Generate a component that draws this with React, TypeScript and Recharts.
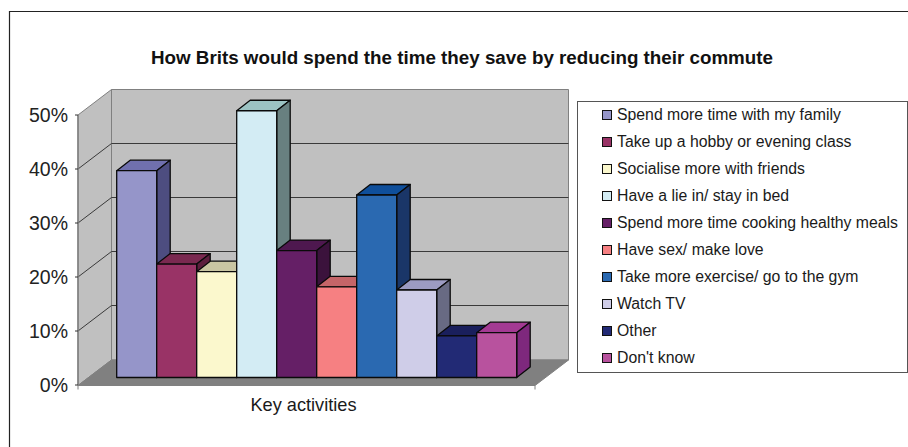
import { BarChart, Bar, XAxis, YAxis, CartesianGrid, Legend } from 'recharts'

const categories = ['Key activities']

const seriesNames = [
  'Spend more time with my family',
  'Take up a hobby or evening class',
  'Socialise more with friends',
  'Have a lie in/ stay in bed',
  'Spend more time cooking healthy meals',
  'Have sex/ make love',
  'Take more exercise/ go to the gym',
  'Watch TV',
  'Other',
  "Don't know"
]

const seriesValues = [38.3, 21, 19.6, 49.4, 23.5, 16.8, 33.8, 16.2, 7.7, 8.3]

const yTicks = [0, 10, 20, 30, 40, 50]

const frontColors = ['#9595C9', '#993366', '#FBF8CD', '#D3ECF4', '#651F66', '#F68082', '#2A69B1', '#CFCDE8', '#222A75', '#B8529E']
const topColors = ['#7070AE', '#7A2950', '#C9C6A2', '#9CC3C3', '#4E184F', '#C56568', '#0F4F9B', '#9C9BC2', '#1A1F5C', '#A33A93']
const sideColors = ['#4D4D80', '#5D1F3E', '#7D7C66', '#688080', '#3B123C', '#7B4041', '#1A3668', '#686A83', '#141A4A', '#7E287D']

const chartData = categories.map(category => {
  const row: { [key: string]: string | number } = { category }
  seriesNames.forEach((name, i) => {
    row[name] = seriesValues[i]
  })
  return row
})

const FONT = '"Liberation Sans", Arial, sans-serif'

// plot rectangle = the front edge of the 3d box
const LEFT = 78
const RIGHT = 535
const TOP = 115
const BOTTOM = 385.5
// how far the back wall sits from the front edge
const DEPTH_X = 33.5
const DEPTH_Y = -25.5
// bars stand a bit into the floor, and have their own depth
const BAR_SHIFT_X = 9.2
const BAR_SHIFT_Y = -7.5
const BAR_DX = 13.5
const BAR_DY = -10.5

const LEGEND_WIDTH = 331

// walls have to sit under the grid lines, so they go in a grid of their own
const wallsOnce = (props: any) => {
  if (props.index !== 0) {
    return <g key={props.key ?? props.y1} />
  }
  const bx = LEFT + DEPTH_X
  const brx = RIGHT + DEPTH_X
  const by = BOTTOM + DEPTH_Y
  const ty = TOP + DEPTH_Y
  return (
    <g key={props.key ?? props.y1}>
      <path d="M9.5 447V11.5H908" fill="none" stroke="#222" strokeWidth={1.2} />
      <polygon points={`${LEFT},${TOP} ${bx},${ty} ${bx},${by} ${LEFT},${BOTTOM}`} fill="#C0C0C0" stroke="#808080" />
      <polygon points={`${bx},${ty} ${brx},${ty} ${brx},${by} ${bx},${by}`} fill="#C0C0C0" stroke="#808080" />
      <polygon points={`${LEFT},${BOTTOM} ${bx},${by} ${brx},${by} ${RIGHT},${BOTTOM}`} fill="#808080" stroke="#808080" />
      <line x1={RIGHT} y1={BOTTOM} x2={RIGHT} y2={BOTTOM + 4} stroke="#808080" />
      <line x1={LEFT} y1={BOTTOM} x2={LEFT} y2={BOTTOM + 4} stroke="#808080" />
    </g>
  )
}

const wallGridLine = (props: any) => {
  const y = props.y1
  // bottom one is the floor edge, top one the wall edge
  if (Math.abs(y - BOTTOM) < 1 || Math.abs(y - TOP) < 1) {
    return <g key={props.key ?? y} />
  }
  return (
    <polyline
      key={props.key ?? y}
      points={`${LEFT},${y} ${LEFT + DEPTH_X},${y + DEPTH_Y} ${RIGHT + DEPTH_X},${y + DEPTH_Y}`}
      fill="none"
      stroke="#3a3a3a"
      strokeWidth={1}
    />
  )
}

const Bar3D = (props: any) => {
  const { x, y, width, height, seriesIndex } = props
  const fx = x + BAR_SHIFT_X
  const fy = y + BAR_SHIFT_Y
  const fr = fx + width
  const fb = fy + height
  return (
    <g stroke="#0a0a0a" strokeWidth={1.3} strokeLinejoin="round">
      <polygon
        points={`${fx},${fy} ${fx + BAR_DX},${fy + BAR_DY} ${fr + BAR_DX},${fy + BAR_DY} ${fr},${fy}`}
        fill={topColors[seriesIndex]}
      />
      <polygon
        points={`${fr},${fy} ${fr + BAR_DX},${fy + BAR_DY} ${fr + BAR_DX},${fb + BAR_DY} ${fr},${fb}`}
        fill={sideColors[seriesIndex]}
      />
      <rect x={fx} y={fy} width={width} height={height} fill={frontColors[seriesIndex]} />
    </g>
  )
}

const LegendBox = () => (
  <div
    style={{
      boxSizing: 'border-box',
      width: LEGEND_WIDTH,
      height: 272,
      border: '1px solid #555',
      background: '#fff',
      fontFamily: FONT,
      fontSize: 15.8,
      color: '#1a1a1a'
    }}
  >
    {seriesNames.map((name, i) => (
      <div
        key={name}
        style={{ display: 'flex', alignItems: 'center', height: 27, marginTop: i === 0 ? -1 : 0, paddingLeft: 24, whiteSpace: 'nowrap' }}
      >
        <span
          style={{
            boxSizing: 'border-box',
            width: 10,
            height: 10,
            marginRight: 5,
            border: '1px solid #111',
            background: frontColors[i]
          }}
        />
        {name}
      </div>
    ))}
  </div>
)

export default function App() {
  return (
    <div style={{ position: 'absolute', left: 0, top: 0, width: 908, height: 447, background: '#fff' }}>
      <BarChart
        width={908}
        height={447}
        data={chartData}
        margin={{ top: TOP, right: 908 - RIGHT - LEGEND_WIDTH, bottom: 30, left: 18 }}
        barCategoryGap={29.5}
        barGap={0}
      >
        <CartesianGrid vertical={false} horizontal={wallsOnce} />
        <CartesianGrid vertical={false} horizontal={wallGridLine} />
        <XAxis
          dataKey="category"
          axisLine={{ stroke: '#808080', strokeWidth: 1.5 }}
          tickLine={false}
          height={32}
          tick={{ fontFamily: FONT, fontSize: 18.2, fill: '#1a1a1a', dx: -3, dy: 1 }}
          tickMargin={6}
        />
        <YAxis
          domain={[0, 50]}
          ticks={yTicks}
          width={60}
          axisLine={{ stroke: '#808080', strokeWidth: 1.5 }}
          tickLine={{ stroke: '#333' }}
          tickSize={3}
          tickMargin={7}
          tickFormatter={(v: number) => `${v}%`}
          tick={{ fontFamily: FONT, fontSize: 19.5, fill: '#222' }}
          interval={0}
        />
        <Legend
          layout="vertical"
          align="right"
          verticalAlign="top"
          content={<LegendBox />}
          wrapperStyle={{ position: 'absolute', left: 577, top: 101, width: LEGEND_WIDTH, height: 272 }}
        />
        {seriesNames.map((name, i) => (
          <Bar
            key={name}
            dataKey={name}
            name={name}
            isAnimationActive={false}
            shape={(p: any) => <Bar3D {...p} seriesIndex={i} />}
          />
        ))}
        <text x={462} y={64} textAnchor="middle" fontFamily={FONT} fontSize={18.8} fontWeight="bold" fill="#111">
          How Brits would spend the time they save by reducing their commute
        </text>
      </BarChart>
    </div>
  )
}
